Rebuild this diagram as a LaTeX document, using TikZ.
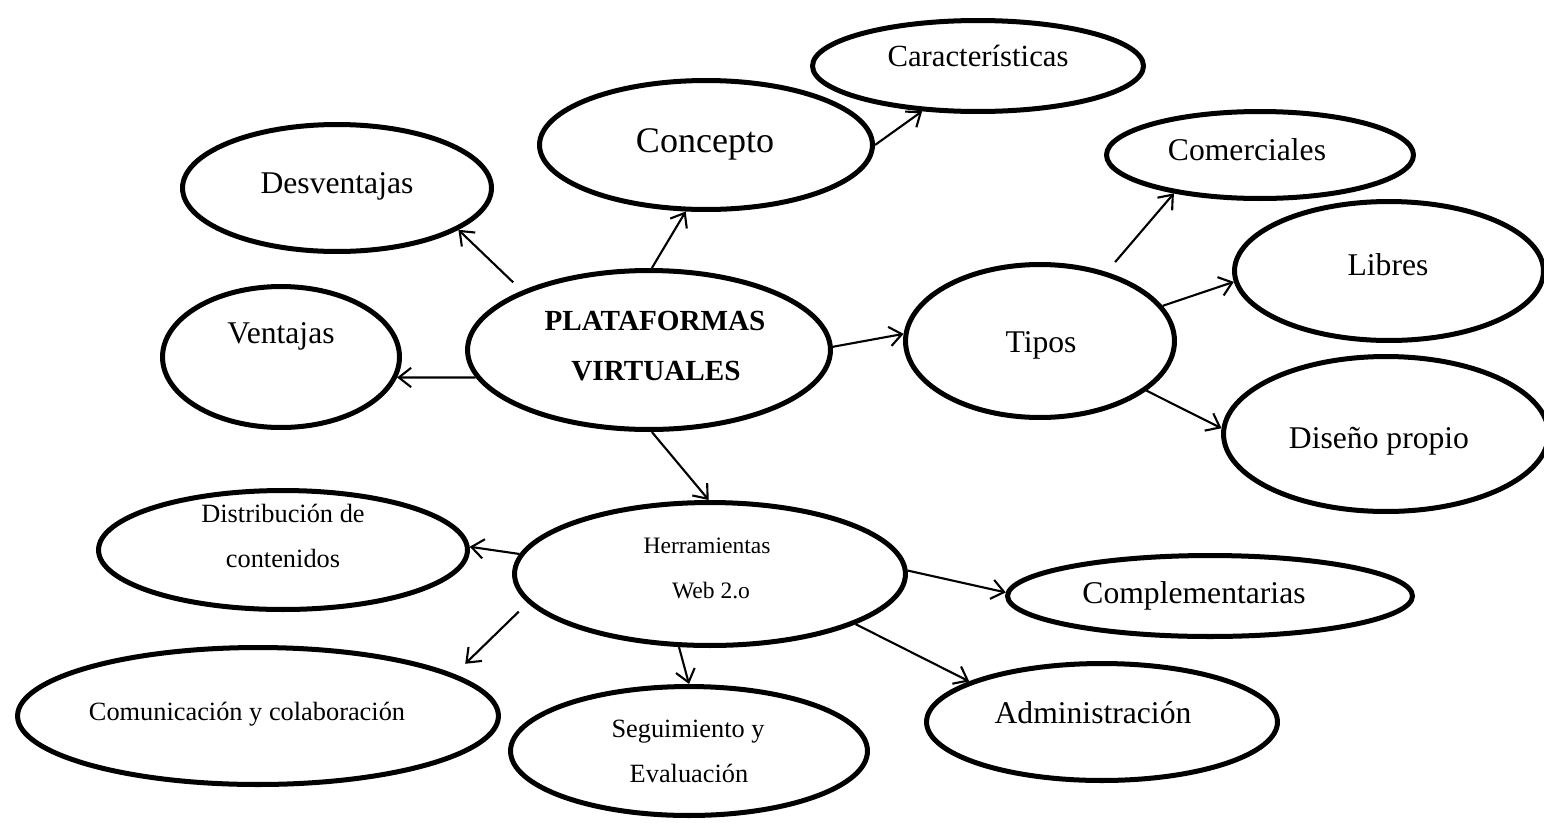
\documentclass[tikz,border=0pt]{standalone}
\usepackage{fontspec}
\setmainfont{Liberation Serif}
\usetikzlibrary{shapes.geometric,arrows.meta}
\begin{document}
\begin{tikzpicture}[x=0.02cm,y=-0.02cm,
  oval/.style={ellipse,draw,line width=2.85pt,inner sep=0pt},
  lbl/.style={anchor=base,inner sep=0pt},
  big/.style={lbl,font=\fontsize{18}{21}\selectfont},
  mid/.style={lbl,font=\fontsize{15}{18}\selectfont},
  conn/.style={line width=1.2pt,-{Straight Barb[length=7pt,width=11pt,line width=1.2pt]}}]
\useasboundingbox (0,0) rectangle (1544,822);
\clip (0,0) rectangle (1544,822);
% ellipses
\node[oval,minimum width=6.62cm,minimum height=1.82cm] (car) at (978,66) {};
\node[oval,minimum width=6.66cm,minimum height=2.58cm] (con) at (706,145) {};
\node[oval,minimum width=6.14cm,minimum height=1.74cm] (com) at (1260,155) {};
\node[oval,minimum width=6.18cm,minimum height=2.54cm] (des) at (337,188) {};
\node[oval,minimum width=6.18cm,minimum height=2.78cm] (lib) at (1389,271) {};
\node[oval,minimum width=4.74cm,minimum height=2.82cm] (ven) at (281,357) {};
\node[oval,minimum width=7.26cm,minimum height=3.18cm] (pv) at (649,350) {};
\node[oval,minimum width=5.38cm,minimum height=3.06cm] (tip) at (1040,341) {};
\node[oval,minimum width=6.50cm,minimum height=3.10cm] (dis) at (1386,434) {};
\node[oval,minimum width=7.38cm,minimum height=2.38cm] (dist) at (283,550) {};
\node[oval,minimum width=7.82cm,minimum height=2.86cm] (her) at (710,574) {};
\node[oval,minimum width=8.10cm,minimum height=1.62cm] (cmp) at (1210,596) {};
\node[oval,minimum width=9.62cm,minimum height=2.74cm] (cmn) at (258,716) {};
\node[oval,minimum width=7.14cm,minimum height=2.58cm] (seg) at (689,751) {};
\node[oval,minimum width=7.02cm,minimum height=2.34cm] (adm) at (1102,722) {};
% texts
\node[lbl,font=\fontsize{17.5}{20}\selectfont] (tcar) at (978,66) {Características};
\node[lbl,font=\fontsize{20.5}{24}\selectfont] (tcon) at (705,152) {Concepto};
\node[big] (tcom) at (1247,160) {Comerciales};
\node[big] (tdes) at (337,193) {Desventajas};
\node[big] (tlib) at (1388,275) {Libres};
\node[big] (tven) at (281,343) {Ventajas};
\node[lbl,font=\fontsize{16.6}{20}\selectfont\bfseries] (tpv1) at (655,330) {PLATAFORMAS};
\node[lbl,font=\fontsize{16.6}{20}\selectfont\bfseries] (tpv2) at (656,380) {VIRTUALES};
\node[big] (ttip) at (1041,352) {Tipos};
\node[big] (tdis) at (1379,448) {Diseño propio};
\node[mid] (tdist1) at (283,522) {Distribución de};
\node[mid] (tdist2) at (283,567) {contenidos};
\node[lbl,font=\fontsize{13.4}{16}\selectfont] (ther1) at (707,553) {Herramientas};
\node[lbl,font=\fontsize{13.4}{16}\selectfont] (ther2) at (711,598) {Web 2.o};
\node[big] (tcmp) at (1194,603) {Complementarias};
\node[big] (tadm) at (1093,723) {Administración};
\node[mid] (tcmn) at (247,720) {Comunicación y colaboración};
\node[mid] (tseg1) at (688,737) {Seguimiento y};
\node[mid] (tseg2) at (689,782) {Evaluación};
% connectors
\draw[conn] (pv.88.6) -- (con.-107.9);
\draw[conn,shorten <=0.24cm] (pv.155.7) -- (des.-19.8);
\draw[conn] (pv.189.4) -- (ven.-10.7);
\draw[conn] (pv.1.9) -- (tip.177.1);
\draw[conn] (pv.-88) -- (her.91.5);
\draw[conn] (con.0.7) -- (car.219.9);
\draw[conn,shorten <=0.26cm] (tip.46.1) -- (com.204.9);
\draw[conn] (tip.16.2) -- (lib.184.7);
\draw[conn] (tip.-25.7) -- (dis.178.5);
\draw[conn] (her.174.6) -- (dist.1.5);
\draw[conn,shorten <=0.25cm,shorten >=0.3cm] (her.189.2) -- (cmn.12.6);
\draw[conn] (her.247) -- (seg.90.9);
\draw[conn] (her.1.5) -- (cmp.179.7);
\draw[conn] (her.-19.2) -- (adm.163.3);
\end{tikzpicture}
\end{document}
